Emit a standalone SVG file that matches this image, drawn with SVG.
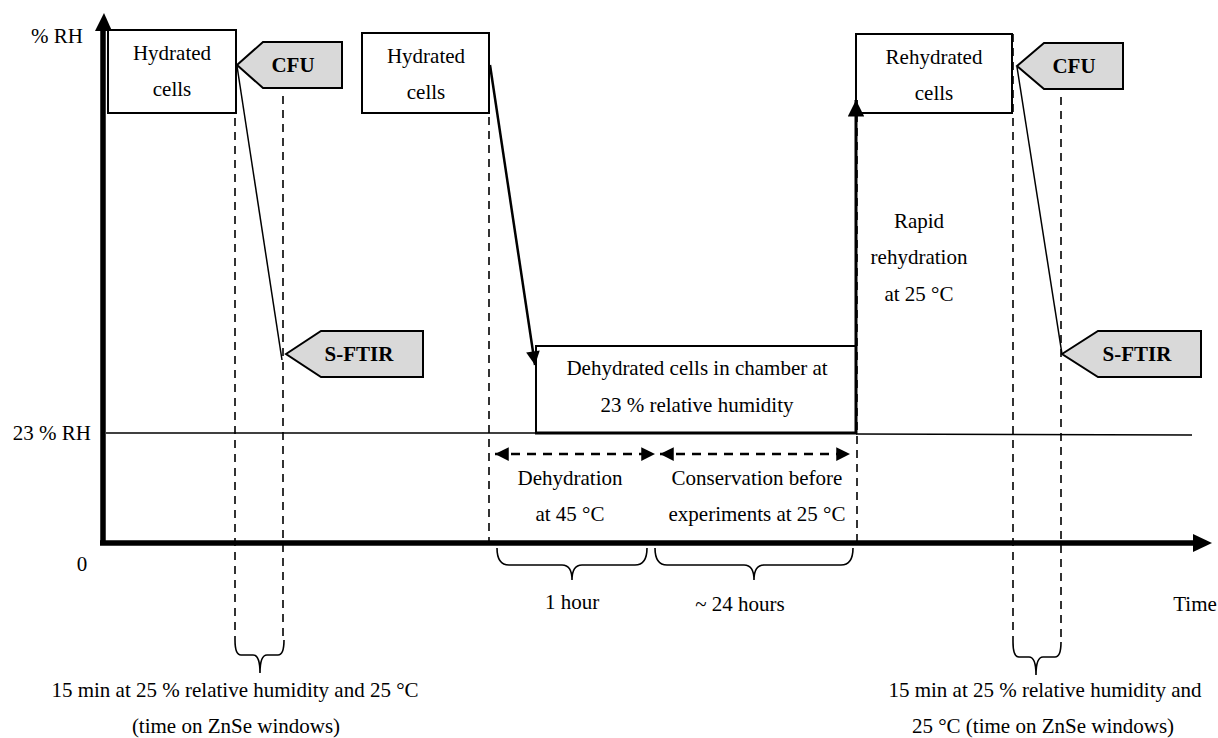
<svg xmlns="http://www.w3.org/2000/svg" width="1218" height="738" viewBox="0 0 1218 738" font-family="'Liberation Serif', 'Times New Roman', Tinos, serif">
<style>
text{font-family:"Liberation Serif","Times New Roman",Tinos,serif;font-size:21px;fill:#000}
.b{font-weight:bold}
.m{text-anchor:middle}
.e{text-anchor:end}
.box{fill:#fff;stroke:#000;stroke-width:2}
.tag{fill:#d9d9d9;stroke:#000;stroke-width:2}
.dash{stroke:#000;stroke-width:1.6;stroke-dasharray:8 6;fill:none}
.hdash{stroke:#000;stroke-width:2.5;stroke-dasharray:9 7;fill:none}
.thin{stroke:#000;stroke-width:1.5;fill:none}
.brace{stroke:#000;stroke-width:1.6;fill:none}
</style>
<defs>
<marker id="ah" viewBox="0 0 10 10" refX="10" refY="5" markerWidth="6" markerHeight="5.5" markerUnits="strokeWidth" orient="auto"><path d="M0,0L10,5L0,10z" fill="#000"/></marker>
<marker id="ah2" viewBox="0 0 10 10" refX="10" refY="5" markerWidth="5.5" markerHeight="6" markerUnits="strokeWidth" orient="auto-start-reverse"><path d="M0,0L10,5L0,10z" fill="#000"/></marker>
</defs>

<g id="axes">
<line x1="103" y1="543" x2="103" y2="30" stroke="#000" stroke-width="5.5"/>
<path d="M95,31L104,13L112,31z" fill="#000"/>
<line x1="100" y1="543" x2="1195" y2="543" stroke="#000" stroke-width="5.5"/>
<path d="M1193,534L1212,543L1193,552z" fill="#000"/>
<text x="83" y="43" class="e">% RH</text>
<text x="91" y="440" class="e">23 % RH</text>
<text x="82" y="571" class="m">0</text>
<text x="1195" y="611" class="m">Time</text>
<polyline points="106,433 537,433" class="thin"/>
<polyline points="856,434 1192,435" class="thin"/>
</g>

<g id="hydrated1">
<rect x="108" y="30" width="128" height="83" class="box"/>
<text x="172" y="60" class="m">Hydrated</text>
<text x="172" y="96" class="m">cells</text>
</g>
<g id="cfu1">
<path d="M237,65L263,42L342,42L342,88L263,88z" class="tag"/>
<text x="293" y="72" class="m b">CFU</text>
</g>
<g id="sftir1">
<path d="M286,354L321,331L423,331L423,377L321,377z" class="tag"/>
<text x="359" y="361" class="m b">S-FTIR</text>
</g>
<g id="hydrated2">
<rect x="362" y="33" width="127" height="80" class="box"/>
<text x="426" y="63" class="m">Hydrated</text>
<text x="426" y="99" class="m">cells</text>
</g>
<g id="dehydrated">
<path d="M536,433L536,346L856,346" class="box" fill="none"/>
<line x1="535" y1="433" x2="857" y2="433" stroke="#000" stroke-width="3"/>
<text x="697" y="375" class="m">Dehydrated cells in chamber at</text>
<text x="697" y="412" class="m">23 % relative humidity</text>
</g>
<g id="rehydrated">
<rect x="856" y="34" width="156" height="79" class="box"/>
<text x="934" y="64" class="m">Rehydrated</text>
<text x="934" y="100" class="m">cells</text>
</g>
<g id="cfu2">
<path d="M1017,66L1044,43L1123,43L1123,89L1044,89z" class="tag"/>
<text x="1074" y="73" class="m b">CFU</text>
</g>
<g id="sftir2">
<path d="M1062,354L1098,331L1201,331L1201,377L1098,377z" class="tag"/>
<text x="1137" y="361" class="m b">S-FTIR</text>
</g>
<g id="rapid">
<text x="919" y="228" class="m">Rapid</text>
<text x="919" y="264" class="m">rehydration</text>
<text x="919" y="301" class="m">at 25 °C</text>
</g>
<g id="dehydration-label">
<text x="570" y="485" class="m">Dehydration</text>
<text x="570" y="521" class="m">at 45 °C</text>
</g>
<g id="conservation-label">
<text x="757" y="485" class="m">Conservation before</text>
<text x="757" y="521" class="m">experiments at 25 °C</text>
</g>
<g id="durations">
<text x="572" y="609" class="m">1 hour</text>
<text x="740" y="611" class="m">~ 24 hours</text>
</g>
<g id="note-left">
<text x="235" y="697" class="m">15 min at 25 % relative humidity and 25 °C</text>
<text x="236" y="733" class="m">(time on ZnSe windows)</text>
</g>
<g id="note-right">
<text x="1045" y="697" class="m">15 min at 25 % relative humidity and</text>
<text x="1043" y="733" class="m">25 °C (time on ZnSe windows)</text>
</g>

<g id="connectors">
<line x1="235" y1="118" x2="235" y2="640" class="dash"/>
<line x1="283" y1="96" x2="283" y2="640" class="dash"/>
<line x1="489" y1="33" x2="489" y2="541" class="dash"/>
<line x1="857" y1="100" x2="857" y2="541" class="dash"/>
<line x1="1013" y1="34" x2="1013" y2="642" class="dash"/>
<line x1="1061" y1="97" x2="1061" y2="642" class="dash"/>
<line x1="237" y1="66" x2="282" y2="360" class="thin"/>
<line x1="1017" y1="67" x2="1062" y2="354" class="thin"/>
<line x1="490" y1="65" x2="535" y2="365" stroke="#000" stroke-width="2.5" marker-end="url(#ah)"/>
<line x1="856" y1="434" x2="856" y2="100" stroke="#000" stroke-width="3" marker-end="url(#ah)"/>
<line x1="495" y1="454" x2="655" y2="454" class="hdash" marker-start="url(#ah2)" marker-end="url(#ah2)"/>
<line x1="660" y1="454" x2="850" y2="454" class="hdash" marker-start="url(#ah2)" marker-end="url(#ah2)"/>
<path class="brace" d="M497,548Q497,565 509,565L562,565Q572,565 572,580Q572,565 582,565L635,565Q647,565 647,548"/>
<path class="brace" d="M655,548Q655,565 667,565L744,565Q754,565 754,580Q754,565 764,565L841,565Q853,565 853,548"/>
<path class="brace" d="M235,640Q235,655 241,655L253,655Q260,655 260,673Q260,655 267,655L278,655Q284,655 284,640"/>
<path class="brace" d="M1013,642Q1013,657 1019,657L1029,657Q1036,657 1036,675Q1036,657 1043,657L1055,657Q1061,657 1061,642"/>
</g>
</svg>
